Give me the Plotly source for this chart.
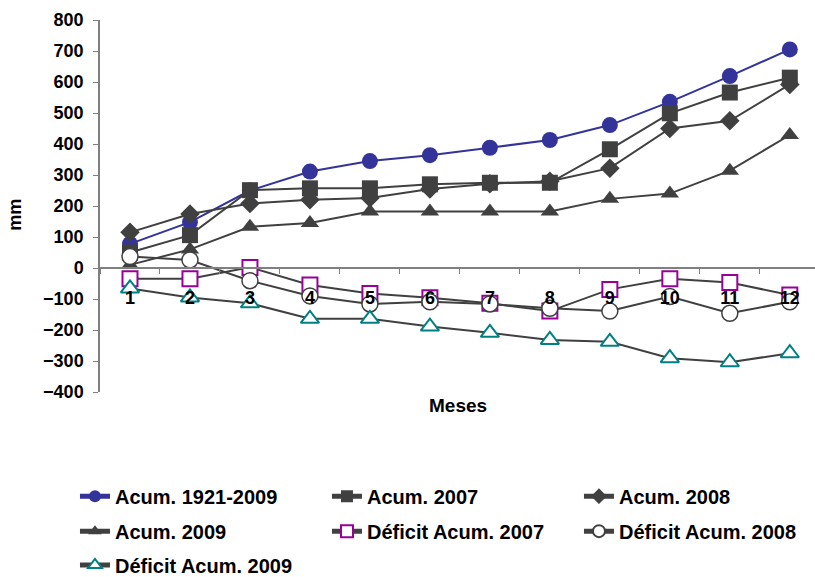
import plotly.graph_objects as go

meses = ["1", "2", "3", "4", "5", "6", "7", "8", "9", "10", "11", "12"]

acum_1921_2009 = [78, 148, 250, 311, 345, 364, 388, 413, 461, 536, 619, 705]
acum_2007 = [50, 106, 251, 257, 257, 270, 275, 275, 383, 499, 566, 614]
acum_2008 = [115, 174, 208, 220, 226, 255, 272, 280, 322, 450, 475, 592]
acum_2009 = [10, 60, 133, 145, 182, 182, 182, 182, 223, 240, 314, 429]
deficit_2007 = [-35, -35, 2, -55, -82, -96, -114, -139, -69, -35, -47, -87]
deficit_2008 = [37, 26, -41, -90, -116, -109, -116, -130, -139, -92, -146, -109]
deficit_2009 = [-66, -95, -114, -164, -164, -189, -209, -232, -238, -291, -304, -275]

GRAY = "#404040"
BLUE = "#333399"
PURPLE = "#990099"
TEAL = "#008080"
FONT = "Liberation Sans, Arial, sans-serif"

series = [
    ("Acum. 1921-2009", acum_1921_2009, BLUE, dict(symbol="circle", size=16, color=BLUE), "legend"),
    ("Acum. 2007", acum_2007, GRAY, dict(symbol="square", size=16, color=GRAY), "legend"),
    ("Acum. 2008", acum_2008, GRAY, dict(symbol="diamond", size=15, color=GRAY), "legend"),
    ("Acum. 2009", acum_2009, GRAY, dict(symbol="triangle-up", size=16, color=GRAY), "legend2"),
    ("Déficit Acum. 2007", deficit_2007, GRAY,
     dict(symbol="square", size=15, color="white", line=dict(color=PURPLE, width=2)), "legend2"),
    ("Déficit Acum. 2008", deficit_2008, GRAY,
     dict(symbol="circle", size=16, color="white", line=dict(color=GRAY, width=1.5)), "legend2"),
    ("Déficit Acum. 2009", deficit_2009, GRAY,
     dict(symbol="triangle-up", size=16, color="white", line=dict(color=TEAL, width=2)), "legend3"),
]

fig = go.Figure()
for name, vals, lc, marker, leg in series:
    fig.add_trace(go.Scatter(
        x=meses, y=vals, name=name, mode="lines+markers",
        line=dict(color=lc, width=2), marker=marker, legend=leg,
    ))

legend_style = dict(
    orientation="h", xanchor="left", yanchor="middle", x=-0.035,
    font=dict(family=FONT, size=20, color="black", weight="bold"),
    entrywidth=207, bgcolor="rgba(0,0,0,0)", itemwidth=30, itemsizing="constant",
)

fig.update_layout(
    width=815, height=577,
    margin=dict(l=100, r=0, t=20, b=185, autoexpand=False),
    plot_bgcolor="white", paper_bgcolor="white",
    font=dict(family=FONT, color="black"),
    showlegend=True,
    legend=dict(legend_style, y=-0.280),
    legend2=dict(legend_style, y=-0.374),
    legend3=dict(legend_style, y=-0.465),
    xaxis=dict(
        type="category", range=[-0.5, 11.42],
        anchor="free", position=1 / 3,
        showline=True, linecolor="#808080", linewidth=1.5,
        ticks="outside", tickson="boundaries", ticklen=5, tickcolor="#808080",
        ticklabelstandoff=14,
        tickfont=dict(family=FONT, size=18, color="black", weight="bold"),
        showgrid=False, zeroline=False,
    ),
    yaxis=dict(
        range=[-400, 800], dtick=100,
        showline=True, linecolor="#808080", linewidth=1.5,
        ticks="outside", ticklen=5, tickcolor="#808080",
        ticklabelstandoff=6,
        tickfont=dict(family=FONT, size=18, color="black", weight="bold"),
        showgrid=False, zeroline=False,
    ),
    annotations=[
        dict(text="<b>Meses</b>", x=0.5, y=-0.035, xref="paper", yref="paper",
             xanchor="center", yanchor="middle", showarrow=False,
             font=dict(family=FONT, size=19, color="black")),
        dict(text="<b>mm</b>", x=-0.119, y=0.476, xref="paper", yref="paper",
             xanchor="center", yanchor="middle", showarrow=False, textangle=-90,
             font=dict(family=FONT, size=18, color="black")),
    ],
)

fig.write_html("out.html", config={"displayModeBar": False},
               post_script="document.body.style.margin = '0px';")
